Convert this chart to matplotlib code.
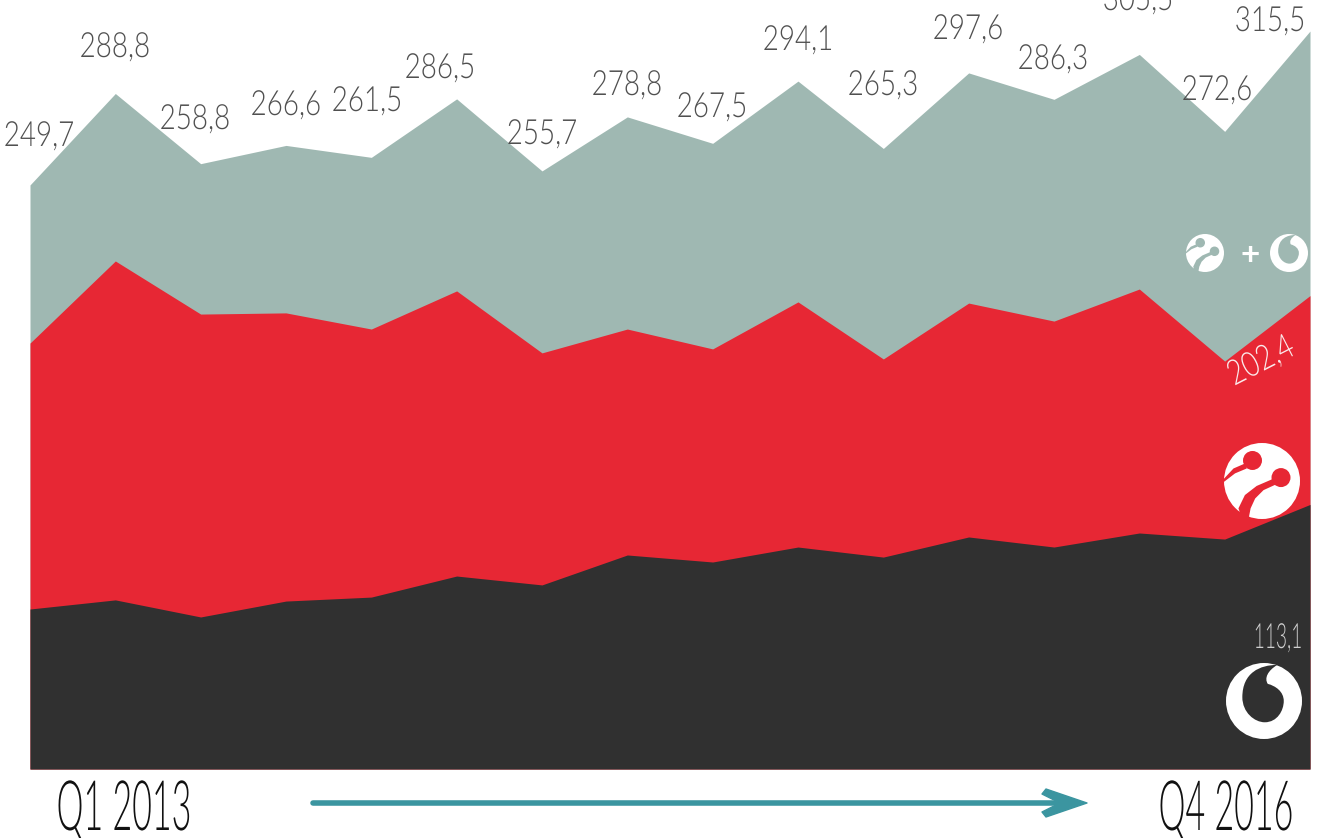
import math

import matplotlib

matplotlib.use("Agg")
import matplotlib.pyplot as plt  # noqa: E402
from matplotlib.patches import Circle, PathPatch, Polygon  # noqa: E402
from matplotlib.path import Path  # noqa: E402
from matplotlib.patheffects import AbstractPathEffect  # noqa: E402
from matplotlib.transforms import Affine2D  # noqa: E402

# quarters Q1 2013 .. Q4 2016
quarters = list(range(16))
total_values = [249.7, 288.8, 258.8, 266.6, 261.5, 286.5, 255.7, 278.8,
                267.5, 294.1, 265.3, 297.6, 286.3, 305.5, 272.6, 315.5]
red_values = [182.1, 217.2, 194.5, 195.0, 188.1, 204.4, 177.9, 188.1,
              179.6, 199.7, 175.3, 199.2, 191.5, 205.2, 174.4, 202.4]
black_values = [68.4, 72.3, 65.0, 71.8, 73.5, 82.5, 78.7, 91.5,
                88.5, 94.9, 90.6, 99.2, 94.9, 100.9, 98.3, 113.1]
total_labels = ["249,7", "288,8", "258,8", "266,6", "261,5", "286,5", "255,7", "278,8",
                "267,5", "294,1", "265,3", "297,6", "286,3", "305,5", "272,6", "315,5"]

# label centres in pixels
label_x = [39, 115, 195, 286, 367, 440, 542, 627, 712, 798, 883, 968, 1053, 1138, 1217, 1270]
label_y = [136, 47, 119, 105, 101, 68, 134, 85, 107, 40, 85, 29, 59, 0, 90, 21]

GREY = "#9fb8b2"
RED = "#e72734"
BLACK = "#303030"
TEAL = "#3b95a0"
THIN_FONT = ["Lato", "Roboto", "DejaVu Sans"]


class Squeeze(AbstractPathEffect):
    # narrows the glyphs along the text direction, there is no condensed thin font
    def __init__(self, factor):
        super().__init__()
        self.factor = factor

    def draw_path(self, renderer, gc, tpath, affine, rgbFace=None):
        renderer.draw_path(gc, tpath, Affine2D().scale(self.factor, 1) + affine, rgbFace)


def put_text(ax, fig, cx, cy, s, size, factor, color, weight=300, angle=0, va="center"):
    t = ax.text(cx, cy, s, fontsize=size, color=color, family=THIN_FONT, weight=weight,
                ha="left", va=va, rotation=0, rotation_mode="anchor")
    width = t.get_window_extent(fig.canvas.get_renderer()).width * factor
    rad = math.radians(angle)
    # y axis of the overlay runs downward
    t.set_position((cx - width / 2 * math.cos(rad), cy + width / 2 * math.sin(rad)))
    t.set_rotation(angle)
    t.set_path_effects([Squeeze(factor)])
    return t


def polygon_patch(points, cx, cy, r, color):
    # closed polygon, points are (x, y) relative to the logo radius
    verts = [(cx + px * r, cy + py * r) for px, py in points]
    codes = [Path.MOVETO] + [Path.LINETO] * (len(verts) - 1)
    return PathPatch(Path(verts, codes), facecolor=color, edgecolor="none")


def vodafone_logo(ax, cx, cy, r, bg):
    ax.add_patch(Circle((cx, cy), r, facecolor="white", edgecolor="none"))
    hole = Path(
        [(0.35, -0.95), (-0.10, -0.95), (-0.57, -0.75), (-0.57, -0.10),
         (-0.57, 0.30), (-0.25, 0.56), (0.02, 0.56),
         (0.35, 0.56), (0.52, 0.25), (0.52, 0.00),
         (0.52, -0.25), (0.30, -0.40), (0.10, -0.45),
         (0.00, -0.60), (0.10, -0.80), (0.35, -0.95)],
        [Path.MOVETO] + [Path.CURVE4] * 15,
    )
    shifted = Affine2D().scale(r).translate(cx, cy).transform_path(hole)
    ax.add_patch(PathPatch(shifted, facecolor=bg, edgecolor="none"))


def turkcell_logo(ax, cx, cy, r, bg):
    ax.add_patch(Circle((cx, cy), r, facecolor="white", edgecolor="none"))
    upper = [(-0.45, -0.46), (-0.75, -0.33), (-1.02, -0.04),
             (-1.01, 0.03), (-0.71, -0.20), (-0.40, -0.33)]
    lower = [(-0.62, 0.72), (-0.45, 0.37), (-0.14, 0.13), (0.30, -0.06),
             (0.39, 0.08), (0.04, 0.24), (-0.18, 0.46), (-0.30, 0.72),
             (-0.35, 0.98), (-0.55, 0.92)]
    ax.add_patch(polygon_patch(upper, cx, cy, r, bg))
    ax.add_patch(polygon_patch(lower, cx, cy, r, bg))
    ax.add_patch(Circle((cx - 0.25 * r, cy - 0.54 * r), 0.25 * r, facecolor=bg, edgecolor="none"))
    ax.add_patch(Circle((cx + 0.50 * r, cy - 0.09 * r), 0.25 * r, facecolor=bg, edgecolor="none"))


fig = plt.figure(figsize=(13.2, 8.38), dpi=100)

# areas: 2.339 px per unit, baseline at pixel 769
ax = fig.add_axes([30 / 1320, 69 / 838, 1280 / 1320, 769 / 838])
ax.fill_between(quarters, 0, total_values, color=GREY, linewidth=0)
ax.fill_between(quarters, 0, red_values, color=RED, linewidth=0)
ax.fill_between(quarters, 0, black_values, color=BLACK, linewidth=0)
ax.set_xlim(0, 15)
ax.set_ylim(0, 769 / 2.339)
ax.axis("off")

# overlay in pixel coordinates for texts and logos
top = fig.add_axes([0, 0, 1, 1])
top.set_xlim(0, 1320)
top.set_ylim(838, 0)
top.axis("off")

for x, y, s in zip(label_x, label_y, total_labels):
    put_text(top, fig, x, y, s, 25, 0.8, "#505050", weight=300)

put_text(top, fig, 1261, 361, "202,4", 25, 0.8, "#fbe9ea", weight=300, angle=27)
put_text(top, fig, 1278, 638, "113,1", 25, 0.55, "#cfcfcf", weight=300)

put_text(top, fig, 124, 830, "Q1 2013", 50, 0.49, "#111111", weight=300, va="baseline")
put_text(top, fig, 1226, 830, "Q4 2016", 50, 0.49, "#111111", weight=300, va="baseline")

top.plot([313, 1062], [802.5, 802.5], color=TEAL, lw=4, solid_capstyle="round")
top.add_patch(Polygon([(1046, 789), (1087, 803), (1046, 817), (1042, 812), (1060, 803), (1042, 794)],
                      facecolor=TEAL, edgecolor=TEAL, lw=1, joinstyle="round"))

turkcell_logo(top, 1205, 253, 19, GREY)
vodafone_logo(top, 1289, 253, 19, GREY)
top.text(1250, 255, "+", color="white", fontsize=24, weight="bold", ha="center", va="center",
         family="Lato")
turkcell_logo(top, 1262, 481, 38, RED)
vodafone_logo(top, 1264, 701, 38, BLACK)

fig.savefig("out.png", dpi=100)
